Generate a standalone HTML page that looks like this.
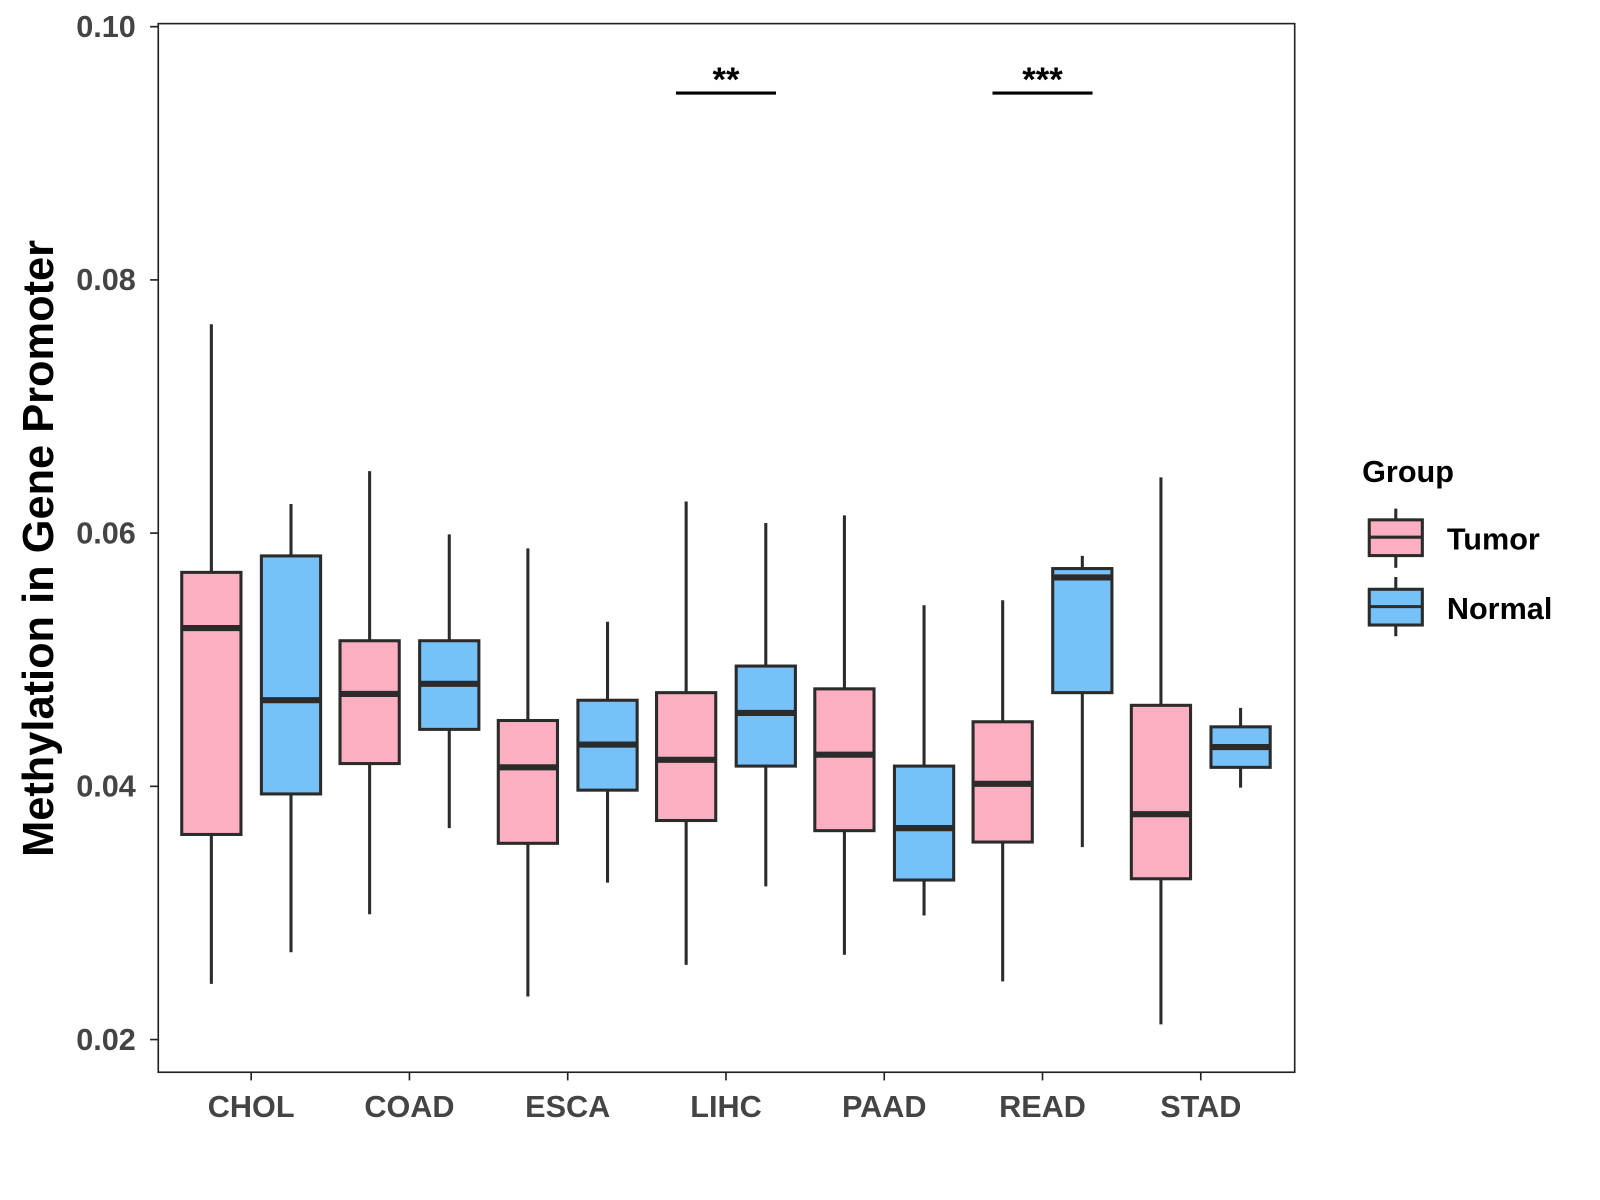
<!DOCTYPE html>
<html><head><meta charset="utf-8"><style>
html,body{margin:0;padding:0;background:#fff;}
svg{display:block;font-family:"Liberation Sans",Arial,sans-serif;}
</style></head><body>
<svg id="chart" width="1600" height="1200" viewBox="0 0 1567 1175" xmlns="http://www.w3.org/2000/svg">
<rect x="155" y="23" width="1113" height="1027" fill="#fff" stroke="#222" stroke-width="1.6"/>
<g id="yaxis"></g>
<g id="xaxis"></g>
<g id="boxes"></g>
<text transform="translate(52,537) rotate(-90)" text-anchor="middle" font-size="42.5" font-weight="bold" fill="#000">Methylation in Gene Promoter</text>
<g>
<line x1="662" y1="91" x2="760" y2="91" stroke="#000" stroke-width="3"/>
<text x="711" y="89" text-anchor="middle" font-size="34" font-weight="bold">**</text>
</g>
<g>
<line x1="972" y1="91" x2="1070" y2="91" stroke="#000" stroke-width="3"/>
<text x="1021" y="89" text-anchor="middle" font-size="34" font-weight="bold">***</text>
</g>
<g>
<text x="1334" y="472" font-size="30" font-weight="bold">Group</text>
<g>
<line x1="1367" y1="498" x2="1367" y2="556" stroke="#2b2b2b" stroke-width="3"/>
<rect x="1341" y="509" width="52" height="35" fill="#FBAFC0" stroke="#2b2b2b" stroke-width="3"/>
<line x1="1341" y1="526" x2="1393" y2="526" stroke="#2b2b2b" stroke-width="3"/>
<text x="1417" y="538" font-size="30" font-weight="bold">Tumor</text>
</g>
<g>
<line x1="1367" y1="565" x2="1367" y2="623" stroke="#2b2b2b" stroke-width="3"/>
<rect x="1341" y="577" width="52" height="35" fill="#76C1F8" stroke="#2b2b2b" stroke-width="3"/>
<line x1="1341" y1="594" x2="1393" y2="594" stroke="#2b2b2b" stroke-width="3"/>
<text x="1417" y="606" font-size="30" font-weight="bold">Normal</text>
</g>
</g>
</svg>
<script>
const categories=["CHOL","COAD","ESCA","LIHC","PAAD","READ","STAD"];
const yTicks=[0.02,0.04,0.06,0.08,0.10];
const yTickLabels=["0.02","0.04","0.06","0.08","0.10"];
// [lower whisker, Q1, median, Q3, upper whisker]
const tumorStats=[
[0.0244,0.0362,0.0525,0.0569,0.0765],
[0.0299,0.0418,0.0473,0.0515,0.0649],
[0.0234,0.0355,0.0415,0.0452,0.0588],
[0.0259,0.0373,0.0421,0.0474,0.0625],
[0.0267,0.0365,0.0425,0.0477,0.0614],
[0.0246,0.0356,0.0402,0.0451,0.0547],
[0.0212,0.0327,0.0378,0.0464,0.0644]];
const normalStats=[
[0.0269,0.0394,0.0468,0.0582,0.0623],
[0.0367,0.0445,0.0481,0.0515,0.0599],
[0.0324,0.0397,0.0433,0.0468,0.0530],
[0.0321,0.0416,0.0458,0.0495,0.0608],
[0.0298,0.0326,0.0367,0.0416,0.0543],
[0.0352,0.0474,0.0565,0.0572,0.0582],
[0.0399,0.0415,0.0431,0.0447,0.0462]];
const NS="http://www.w3.org/2000/svg";
function y(v){return 26+(0.10-v)*12400;}
function x(i){return 246+i*155;}
function mk(tag,attrs,parent){const e=document.createElementNS(NS,tag);for(const k in attrs)e.setAttribute(k,attrs[k]);parent.appendChild(e);return e;}
const ya=document.getElementById('yaxis');
yTicks.forEach((t,i)=>{
 const l=mk('line',{x1:147,x2:155,y1:y(t),y2:y(t),stroke:'#222','stroke-width':1.6},ya);
 
 
 const tx=mk('text',{x:133,y:y(t)+10,'text-anchor':'end','font-size':30,'font-weight':'bold',fill:'#444'},ya);
 tx.textContent=yTickLabels[i];
 
 
});
const xa=document.getElementById('xaxis');
categories.forEach((c,i)=>{
 const l=mk('line',{x1:x(i),x2:x(i),y1:1050,y2:1058,stroke:'#222','stroke-width':1.6},xa);
 
 
 const tx=mk('text',{x:x(i),y:1094,'text-anchor':'middle','font-size':30,'font-weight':'bold',fill:'#444'},xa);
 tx.textContent=c;
 
 
});
const bg=document.getElementById('boxes');
function box(cx,s,fill,name){
 const g=mk('g',{},bg);
 
 
 const w=58;
 mk('line',{x1:cx,x2:cx,y1:y(s[4]),y2:y(s[0]),stroke:'#2b2b2b','stroke-width':3},g);
 mk('rect',{x:cx-w/2,y:y(s[3]),width:w,height:y(s[1])-y(s[3]),fill:fill,stroke:'#2b2b2b','stroke-width':3},g);
 mk('line',{x1:cx-w/2,x2:cx+w/2,y1:y(s[2]),y2:y(s[2]),stroke:'#2b2b2b','stroke-width':6},g);
}
categories.forEach((c,i)=>{
 box(x(i)-39,tumorStats[i],'#FBAFC0','box-tumor-'+c.toLowerCase());
 box(x(i)+39,normalStats[i],'#76C1F8','box-normal-'+c.toLowerCase());
});
</script>
</body></html>
